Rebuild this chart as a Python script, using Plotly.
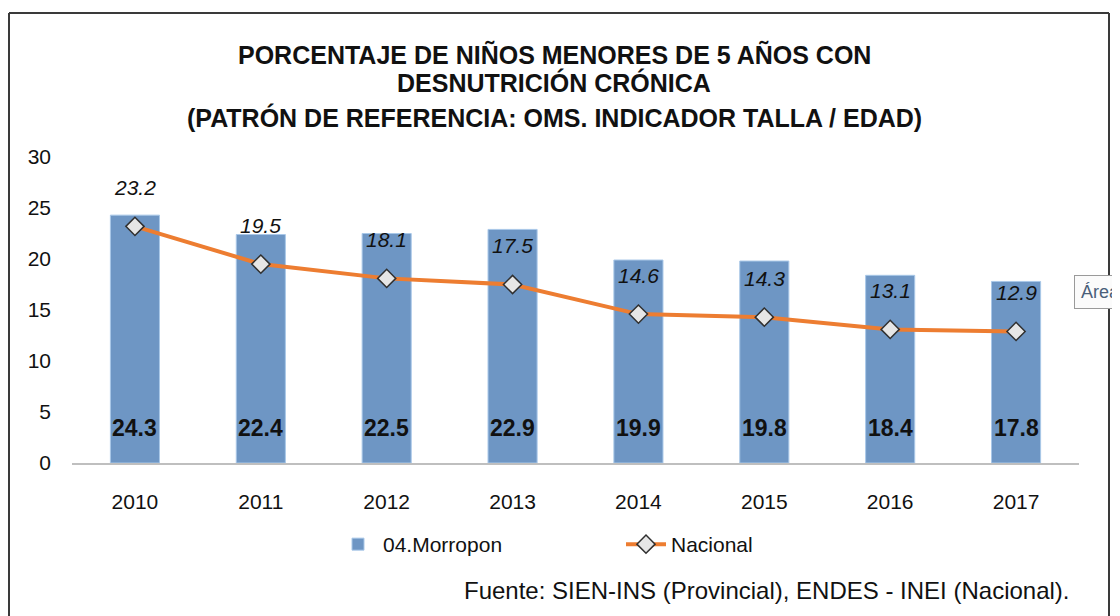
import plotly.graph_objects as go

years = ["2010", "2011", "2012", "2013", "2014", "2015", "2016", "2017"]
morropon = [24.3, 22.4, 22.5, 22.9, 19.9, 19.8, 18.4, 17.8]
nacional = [23.2, 19.5, 18.1, 17.5, 14.6, 14.3, 13.1, 12.9]
y_ticks = [0, 5, 10, 15, 20, 25, 30]

title_lines = [
    "PORCENTAJE DE NIÑOS MENORES DE 5 AÑOS CON",
    "DESNUTRICIÓN CRÓNICA",
    "(PATRÓN DE REFERENCIA: OMS. INDICADOR TALLA / EDAD)",
]
source = "Fuente: SIEN-INS (Provincial), ENDES - INEI (Nacional)."

OFF = 8                     # browser body margin
W, H = 1120 - OFF, 616 - OFF
L, R, T, B = 72, 1079, 157, 463  # plot area in page pixels


def px(x):
    return (x - L) / (R - L)


def py(y):
    return (B - y) / (B - T)


FONT = "Liberation Sans, Arial, sans-serif"

fig = go.Figure()
fig.add_trace(go.Bar(
    x=years, y=morropon, name="04.Morropon",
    marker=dict(color="#6E96C4", line=dict(color="#A9C8E8", width=1)),
    width=0.39,
))
fig.add_trace(go.Scatter(
    x=years, y=nacional, name="Nacional", mode="lines+markers",
    line=dict(color="#ED7D31", width=4),
    marker=dict(symbol="diamond", size=14, color="#E6E6E6",
                line=dict(color="#303030", width=1.5)),
))

ann = []
for i, v in enumerate(morropon):
    ann.append(dict(x=i, y=0, xref="x", yref="y", text=f"<b>{v:.1f}</b>",
                    showarrow=False, yanchor="middle", yshift=35,
                    font=dict(family=FONT, size=23, color="#111111")))
for i, v in enumerate(nacional):
    ann.append(dict(x=i, y=v, xref="x", yref="y", text=f"<i>{v:.1f}</i>",
                    showarrow=False, yanchor="middle", yshift=39,
                    font=dict(family=FONT, size=21, color="#111111")))

title_y = [54, 83, 117]
for t, yy in zip(title_lines, title_y):
    ann.append(dict(x=px(554), y=py(yy), xref="paper", yref="paper", text=f"<b>{t}</b>",
                    showarrow=False, xanchor="center", yanchor="middle", borderpad=0,
                    font=dict(family=FONT, size=25, color="#111111")))

ann.append(dict(x=px(1072), y=py(590), xref="paper", yref="paper", text=source,
                showarrow=False, xanchor="right", yanchor="middle",
                font=dict(family=FONT, size=24, color="#111111")))

ann.append(dict(x=px(1074), y=py(292), xref="paper", yref="paper", text="Área&nbsp;&nbsp;",
                showarrow=False, xanchor="left", yanchor="middle",
                bgcolor="#FBFBFB", bordercolor="#9A9A9A", borderwidth=1, borderpad=6,
                font=dict(family=FONT, size=18, color="#4A5F7A")))

shapes = [
    dict(type="line", xref="paper", yref="paper", x0=px(9), x1=px(1109), y0=py(13), y1=py(13),
         line=dict(color="#3A3A3A", width=2)),
    dict(type="line", xref="paper", yref="paper", x0=px(9), x1=px(9), y0=py(13), y1=py(620),
         line=dict(color="#3A3A3A", width=2)),
    dict(type="line", xref="paper", yref="paper", x0=px(1109), x1=px(1109), y0=py(13), y1=py(620),
         line=dict(color="#3A3A3A", width=2)),
]

fig.update_layout(
    width=W, height=H,
    margin=dict(l=L - OFF, r=W - (R - OFF), t=T - OFF, b=H - (B - OFF)),
    paper_bgcolor="white", plot_bgcolor="white",
    showlegend=True,
    legend=dict(orientation="h", x=px(333), y=py(524), xanchor="left", yanchor="top",
                font=dict(family=FONT, size=21, color="#111111"),
                entrywidth=233, itemwidth=40, traceorder="normal"),
    annotations=ann, shapes=shapes,
)
fig.update_xaxes(
    type="category", range=[-0.5, 7.5], showgrid=False,
    showline=True, linecolor="#BFBFBF", linewidth=2,
    ticks="", ticklabelstandoff=19,
    tickfont=dict(family=FONT, size=21, color="#111111"),
)
fig.update_yaxes(
    range=[0, 30], tickvals=y_ticks, showgrid=False, showline=False, zeroline=False,
    ticks="", ticklabelstandoff=20,
    tickfont=dict(family=FONT, size=21, color="#111111"),
)

fig.write_html("out.html")
